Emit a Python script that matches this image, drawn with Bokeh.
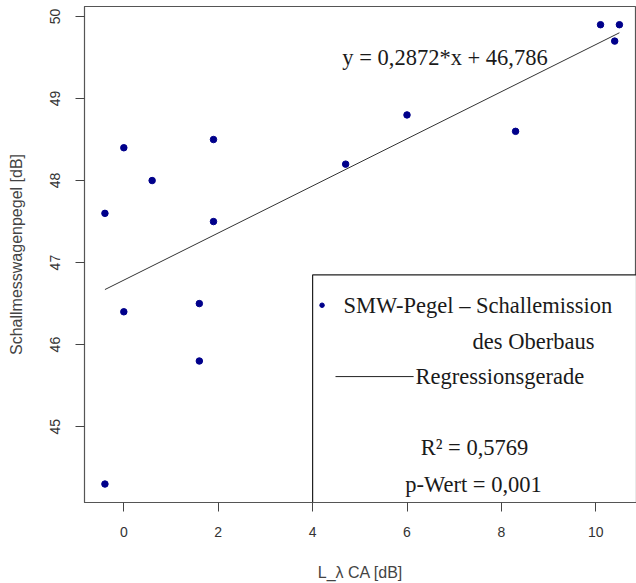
from bokeh.plotting import figure
from bokeh.models import Range1d, BoxAnnotation, Label, FixedTicker
from bokeh.embed import file_html
from bokeh.resources import INLINE

# ---- data ----
x_vals = [-0.4, 0.0, 0.6, 1.9, 1.9, 1.6, 0.0, 1.6, -0.4, 4.7, 6.0, 8.3, 10.1, 10.5, 10.4]
y_vals = [47.6, 48.4, 48.0, 48.5, 47.5, 46.5, 46.4, 45.8, 44.3, 48.2, 48.8, 48.6, 49.9, 49.9, 49.7]
slope = 0.2872
intercept = 46.786
x_ticks = [0, 2, 4, 6, 8, 10]
y_ticks = [45, 46, 47, 48, 49, 50]
eq_text = "y = 0,2872*x + 46,786"
legend_point_label = "SMW-Pegel \u2013 Schallemission"
legend_point_label2 = "des Oberbaus"
legend_line_label = "Regressionsgerade"
r2_text = "R\u00b2 = 0,5769"
p_text = "p-Wert = 0,001"
x_title = "L_\u03bb CA [dB]"
y_title = "Schallmesswagenpegel [dB]"

SANS = "Liberation Sans"
SERIF = "Liberation Serif"
PT_COLOR = "#00008B"

p = figure(width=636, height=583, output_backend="svg", toolbar_location=None,
           x_range=Range1d(-0.833, 10.862), y_range=Range1d(44.075, 50.122),
           min_border_left=84, min_border_top=6, min_border_right=0, min_border_bottom=80)
p.background_fill_color = "white"
p.border_fill_color = "white"
p.outline_line_color = "#555555"
p.outline_line_width = 1.2
p.xgrid.visible = False
p.ygrid.visible = False

for ax, ticks in ((p.xaxis[0], x_ticks), (p.yaxis[0], y_ticks)):
    ax.ticker = FixedTicker(ticks=ticks)
    ax.minor_tick_line_color = None
    ax.major_tick_in = 0
    ax.major_tick_out = 9
    ax.major_tick_line_color = "#444444"
    ax.axis_line_color = "#555555"
    ax.major_label_text_font = SANS
    ax.major_label_text_font_size = "14px"
    ax.major_label_text_color = "#333333"
    ax.axis_label_text_font = SANS
    ax.axis_label_text_font_size = "16px"
    ax.axis_label_text_font_style = "normal"
    ax.axis_label_text_color = "#444444"

p.xaxis.axis_label = x_title
p.yaxis.axis_label = y_title
p.xaxis.major_label_standoff = 15
p.xaxis.axis_label_standoff = 24
p.yaxis.major_label_standoff = 15
p.yaxis.axis_label_standoff = 23
p.yaxis.major_label_orientation = "vertical"

# regression line over data range
x0, x1 = min(x_vals), max(x_vals)
p.line([x0, x1], [slope * x0 + intercept, slope * x1 + intercept],
       line_color="#333333", line_width=1)

# data points
p.scatter(x_vals, y_vals, size=6.5, marker="circle", fill_color=PT_COLOR, line_color=PT_COLOR)

# equation text
p.add_layout(Label(x=4.63, y=49.5, text=eq_text, text_font=SERIF, text_font_size="22.5px",
                   text_baseline="middle", text_align="left", text_color="#1a1a1a"))

# legend box (drawn under glyphs)
box = BoxAnnotation(left=4.0, top=46.85, fill_color="white", fill_alpha=1.0,
                    line_color="#222222", line_alpha=1.0, line_width=1.2, level="underlay")
p.add_layout(box)

# legend contents
p.scatter([4.2], [46.48], size=4.5, marker="circle", fill_color=PT_COLOR, line_color=PT_COLOR)
p.segment(x0=[4.485], y0=[45.61], x1=[6.14], y1=[45.61], line_color="#222222", line_width=1)

for tx, ty, txt, align in ((4.655, 46.48, legend_point_label, "left"),
                           (7.39, 46.04, legend_point_label2, "left"),
                           (6.18, 45.61, legend_line_label, "left"),
                           (7.43, 44.74, r2_text, "center"),
                           (7.41, 44.29, p_text, "center")):
    p.add_layout(Label(x=tx, y=ty, text=txt, text_font=SERIF, text_font_size="22.5px",
                       text_baseline="middle", text_align=align, text_color="#1a1a1a"))

open("out.html", "w").write(file_html(p, INLINE))
